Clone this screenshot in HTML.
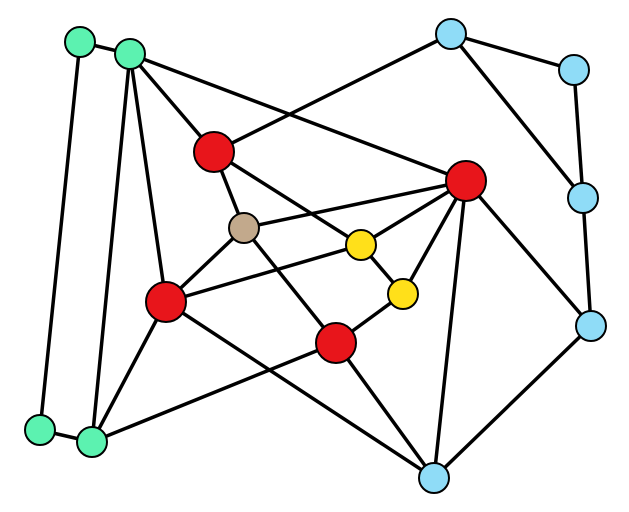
<!DOCTYPE html>
<html><head><meta charset="utf-8"><style>html,body{margin:0;padding:0;background:#fff}svg{display:block}</style></head>
<body>
<svg width="629" height="512" viewBox="0 0 629 512" xmlns="http://www.w3.org/2000/svg">
<g stroke="#000" stroke-width="3.5" fill="none">
<line x1="80" y1="42" x2="130" y2="54"/>
<line x1="80" y1="42" x2="40" y2="430"/>
<line x1="40" y1="430" x2="92" y2="442"/>
<line x1="130" y1="54" x2="214" y2="152"/>
<line x1="130" y1="54" x2="466" y2="181"/>
<line x1="130" y1="54" x2="166" y2="302"/>
<line x1="130" y1="54" x2="92" y2="442"/>
<line x1="92" y1="442" x2="166" y2="302"/>
<line x1="92" y1="442" x2="336" y2="343"/>
<line x1="214" y1="152" x2="451" y2="34"/>
<line x1="214" y1="152" x2="244" y2="228"/>
<line x1="214" y1="152" x2="361" y2="245"/>
<line x1="244" y1="228" x2="466" y2="181"/>
<line x1="244" y1="228" x2="166" y2="302"/>
<line x1="244" y1="228" x2="336" y2="343"/>
<line x1="166" y1="302" x2="361" y2="245"/>
<line x1="166" y1="302" x2="434" y2="478"/>
<line x1="361" y1="245" x2="466" y2="181"/>
<line x1="403" y1="294" x2="466" y2="181"/>
<line x1="403" y1="294" x2="336" y2="343"/>
<line x1="361" y1="245" x2="403" y2="294"/>
<line x1="466" y1="181" x2="434" y2="478"/>
<line x1="466" y1="181" x2="591" y2="326"/>
<line x1="336" y1="343" x2="434" y2="478"/>
<line x1="451" y1="34" x2="574" y2="70"/>
<line x1="451" y1="34" x2="583" y2="198"/>
<line x1="574" y1="70" x2="583" y2="198"/>
<line x1="583" y1="198" x2="591" y2="326"/>
<line x1="591" y1="326" x2="434" y2="478"/>
</g>
<g stroke="#000" stroke-width="2">
<circle cx="80" cy="42" r="15" fill="#5cf2b0"/>
<circle cx="130" cy="54" r="15" fill="#5cf2b0"/>
<circle cx="40" cy="430" r="15" fill="#5cf2b0"/>
<circle cx="92" cy="442" r="15" fill="#5cf2b0"/>
<circle cx="214" cy="152" r="20" fill="#e8151b"/>
<circle cx="466" cy="181" r="20" fill="#e8151b"/>
<circle cx="166" cy="302" r="20" fill="#e8151b"/>
<circle cx="336" cy="343" r="20" fill="#e8151b"/>
<circle cx="244" cy="228" r="15" fill="#c2a98c"/>
<circle cx="361" cy="245" r="15" fill="#ffe01a"/>
<circle cx="403" cy="294" r="15" fill="#ffe01a"/>
<circle cx="451" cy="34" r="15" fill="#8fdcf7"/>
<circle cx="574" cy="70" r="15" fill="#8fdcf7"/>
<circle cx="583" cy="198" r="15" fill="#8fdcf7"/>
<circle cx="591" cy="326" r="15" fill="#8fdcf7"/>
<circle cx="434" cy="478" r="15" fill="#8fdcf7"/>
</g>
</svg>
</body></html>
